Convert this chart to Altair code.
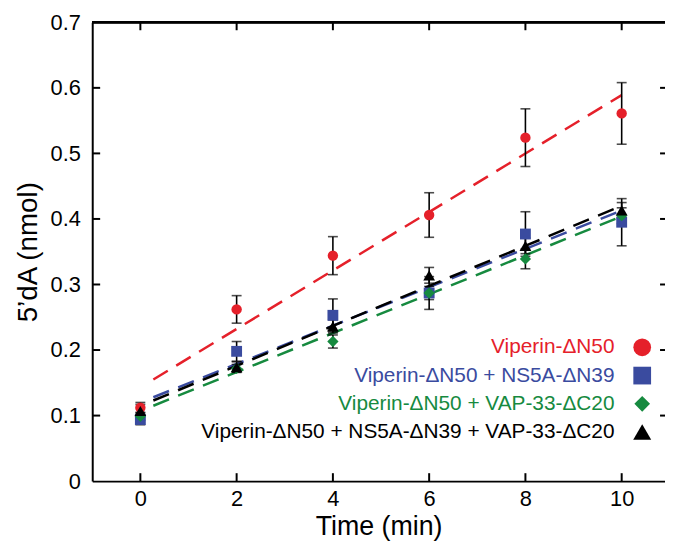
import altair as alt
import pandas as pd

# ---- data ----
times = [0, 2, 4, 6, 8, 10]
series_names = [
    "Viperin-ΔN50",
    "Viperin-ΔN50 + NS5A-ΔN39",
    "Viperin-ΔN50 + VAP-33-ΔC20",
    "Viperin-ΔN50 + NS5A-ΔN39 + VAP-33-ΔC20",
]
colors = ["#e5202a", "#3a4b9f", "#168a3f", "#000000"]
shapes = ["circle", "square", "diamond", "triangle-up"]
point_sizes = [110, 140, 120, 140]
legend_sizes = [320, 320, 250, 330]

red_vals = [0.112, 0.262, 0.344, 0.406, 0.524, 0.561]
red_err = [0.008, 0.021, 0.029, 0.034, 0.044, 0.047]
blue_vals = [0.094, 0.198, 0.253, 0.287, 0.377, 0.395]
blue_err = [0.008, 0.015, 0.025, 0.025, 0.034, 0.036]
green_vals = [0.099, 0.172, 0.213, 0.287, 0.339, 0.405]
green_err = [0.006, 0.006, 0.010, 0.010, 0.015, 0.012]
black_vals = [0.107, 0.174, 0.236, 0.314, 0.359, 0.413]
black_err = [0.010, 0.008, 0.010, 0.012, 0.012, 0.012]

# dashed fit lines (endpoints)
fit_t = [0.27, 10]
red_fit = [0.155, 0.589]
blue_fit = [0.128, 0.413]
green_fit = [0.115, 0.404]
black_fit = [0.123, 0.420]

x_ticks = [0, 2, 4, 6, 8, 10]
y_ticks = [0, 0.1, 0.2, 0.3, 0.4, 0.5, 0.6, 0.7]
inner_y_ticks = [0.1, 0.2, 0.3, 0.4, 0.5, 0.6]

all_vals = [red_vals, blue_vals, green_vals, black_vals]
all_errs = [red_err, blue_err, green_err, black_err]
all_fits = [red_fit, blue_fit, green_fit, black_fit]

rows = []
for name, vals, errs in zip(series_names, all_vals, all_errs):
    for t, v, e in zip(times, vals, errs):
        rows.append({"series": name, "t": t, "v": v, "lo": v - e, "hi": v + e})
df = pd.DataFrame(rows)

fit_rows = []
for name, fv in zip(series_names, all_fits):
    for t, v in zip(fit_t, fv):
        fit_rows.append({"series": name, "t": t, "v": v})
fit_df = pd.DataFrame(fit_rows)

W, H = 578, 463
FONT = "Liberation Sans"

xs = alt.Scale(domain=[-1, 10.9], nice=False, zero=False)
ys = alt.Scale(domain=[0, 0.7], nice=False)
color_scale = alt.Scale(domain=series_names, range=colors)
shape_scale = alt.Scale(domain=series_names, range=shapes)
size_scale = alt.Scale(domain=series_names, range=point_sizes)

x_axis = alt.Axis(values=x_ticks, ticks=False, labelPadding=8, labelFontSize=22,
                  title="Time (min)", titleFontSize=27, titleFontWeight="normal",
                  titlePadding=4, domainColor="black", domainWidth=2, grid=False,
                  labelColor="black", titleColor="black", labelFont=FONT, titleFont=FONT)
y_axis = alt.Axis(values=y_ticks, ticks=False, labelPadding=12, labelFontSize=22,
                  labelExpr="datum.value == 0 ? '0' : format(datum.value, '.1f')",
                  title="5’dA (nmol)", titleFontSize=28, titleFontWeight="normal",
                  titlePadding=8, domainColor="black", domainWidth=2, grid=False,
                  labelColor="black", titleColor="black", labelFont=FONT, titleFont=FONT)

base_x = alt.X("t:Q", scale=xs, axis=x_axis)
base_y = alt.Y("v:Q", scale=ys, axis=y_axis)

fits = alt.Chart(fit_df).mark_line(strokeDash=[17, 10], strokeWidth=2.5).encode(
    x=base_x, y=base_y,
    color=alt.Color("series:N", scale=color_scale, legend=None),
    detail="series:N",
)

err_rule = alt.Chart(df).mark_rule(color="black", strokeWidth=1.6).encode(
    x=alt.X("t:Q", scale=xs), y=alt.Y("lo:Q", scale=ys), y2="hi:Q")
cap_lo = alt.Chart(df).mark_tick(color="black", orient="horizontal", size=10, thickness=1.6).encode(
    x=alt.X("t:Q", scale=xs), y=alt.Y("lo:Q", scale=ys))
cap_hi = alt.Chart(df).mark_tick(color="black", orient="horizontal", size=10, thickness=1.6).encode(
    x=alt.X("t:Q", scale=xs), y=alt.Y("hi:Q", scale=ys))

points = alt.Chart(df).mark_point(filled=True, opacity=1, strokeWidth=0).encode(
    x=alt.X("t:Q", scale=xs), y=alt.Y("v:Q", scale=ys),
    color=alt.Color("series:N", scale=color_scale, legend=None),
    shape=alt.Shape("series:N", scale=shape_scale, legend=None),
    size=alt.Size("series:N", scale=size_scale, legend=None),
)

# frame decorations: top line and inward ticks
tick_df = pd.DataFrame({"t": x_ticks})
ytick_df = pd.DataFrame({"v": inner_y_ticks})
top_line = alt.Chart(tick_df).mark_rule(color="black", strokeWidth=2).encode(
    x=alt.value(0), x2=alt.value(W), y=alt.value(0))
top_ticks = alt.Chart(tick_df).mark_rule(color="black", strokeWidth=2).encode(
    x=alt.X("t:Q", scale=xs), y=alt.value(0), y2=alt.value(8))
bot_ticks = alt.Chart(tick_df).mark_rule(color="black", strokeWidth=2).encode(
    x=alt.X("t:Q", scale=xs), y=alt.value(H - 8), y2=alt.value(H))
left_ticks = alt.Chart(ytick_df).mark_rule(color="black", strokeWidth=2).encode(
    y=alt.Y("v:Q", scale=ys), x=alt.value(0), x2=alt.value(8))
right_ticks = alt.Chart(ytick_df).mark_rule(color="black", strokeWidth=2).encode(
    y=alt.Y("v:Q", scale=ys), x=alt.value(W - 5), x2=alt.value(W + 1))

# manual legend (coloured labels)
legend_layers = []
row_y0, row_dy = 328, 28.5
for i, (name, col, shp, sz) in enumerate(zip(series_names, colors, shapes, legend_sizes)):
    ld = pd.DataFrame({"label": [name]})
    yy = row_y0 + i * row_dy
    legend_layers.append(
        alt.Chart(ld).mark_text(align="right", baseline="middle", fontSize=21,
                                font=FONT, color=col).encode(
            text="label:N", x=alt.value(527), y=alt.value(yy)))
    legend_layers.append(
        alt.Chart(ld).mark_point(filled=True, opacity=1, strokeWidth=0, shape=shp,
                                 size=sz, color=col).encode(
            x=alt.value(555), y=alt.value(yy)))

chart = alt.layer(
    fits, err_rule, cap_lo, cap_hi, points,
    top_line, top_ticks, bot_ticks, left_ticks, right_ticks,
    *legend_layers,
).properties(
    width=W, height=H,
    autosize=alt.AutoSizeParams(type="none"),
    padding={"left": 85, "top": 12, "right": 0, "bottom": 60},
    background="white",
).configure_view(stroke=None)

chart.save("out.html", embed_options={"renderer": "svg", "actions": False})
